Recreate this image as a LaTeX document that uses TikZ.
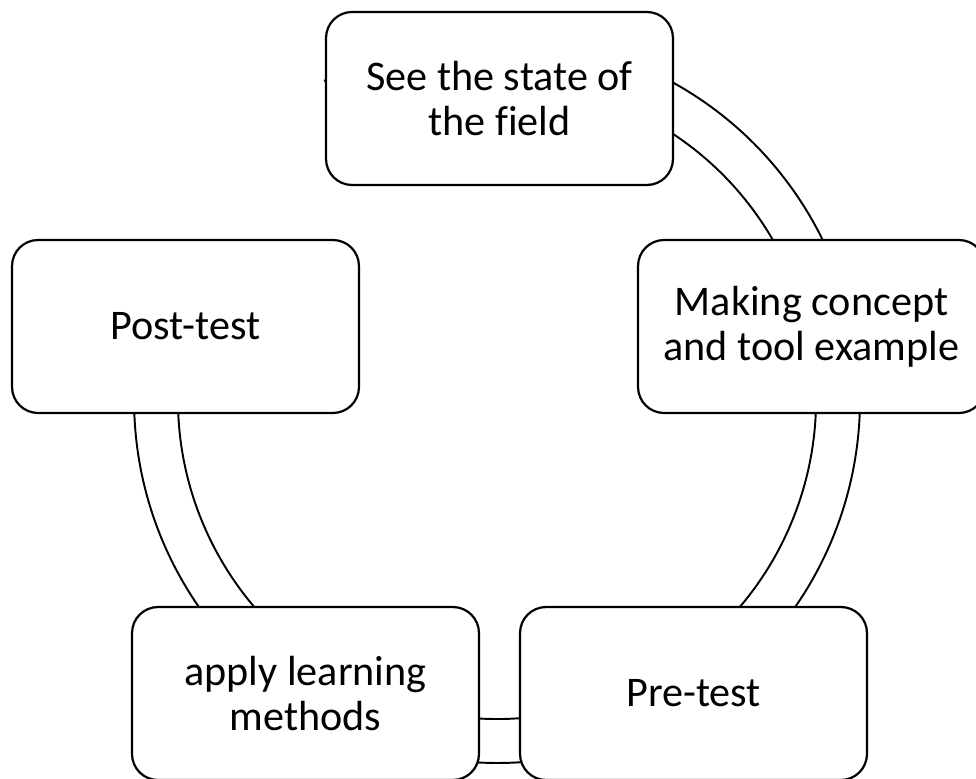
\documentclass[tikz,border=0pt]{standalone}
\usepackage{fontspec}
\setmainfont{Carlito}[Ligatures=NoCommon]
\usetikzlibrary{calc}
\begin{document}
\begin{tikzpicture}[x=0.02cm, y=0.02cm,
  cyclebox/.style={draw, line width=1.25pt, fill=white, rectangle,
    rounded corners=0.52cm, minimum width=6.94cm, minimum height=3.46cm,
    align=center, inner sep=0pt, font=\fontsize{24}{25.6}\selectfont},
  ringline/.style={draw, line width=1.1pt, fill=white}]
  \useasboundingbox (0,0) rectangle (976,778);
  \coordinate (C) at (497,378);
  % circular band running behind the steps
  \draw[ringline] ($(C)+(118.3:7.26cm)$) arc[start angle=118.3, end angle=-200, radius=7.26cm]
    -- ($(C)+(-200:6.38cm)$) arc[start angle=-200, end angle=118.3, radius=6.38cm] -- cycle;
  % the five steps
  \node[cyclebox] (field) at (499.5,679.5) {See the state of\\the field};
  \node[cyclebox] (concept) at (811.5,451.5) {Making concept\\and tool example};
  \node[cyclebox] (pre) at (693.5,84.5) {Pre-test};
  \node[cyclebox] (apply) at (305.5,84.5) {apply learning\\methods};
  \node[cyclebox] (post) at (185.5,451.5) {Post-test};
\end{tikzpicture}
\end{document}
